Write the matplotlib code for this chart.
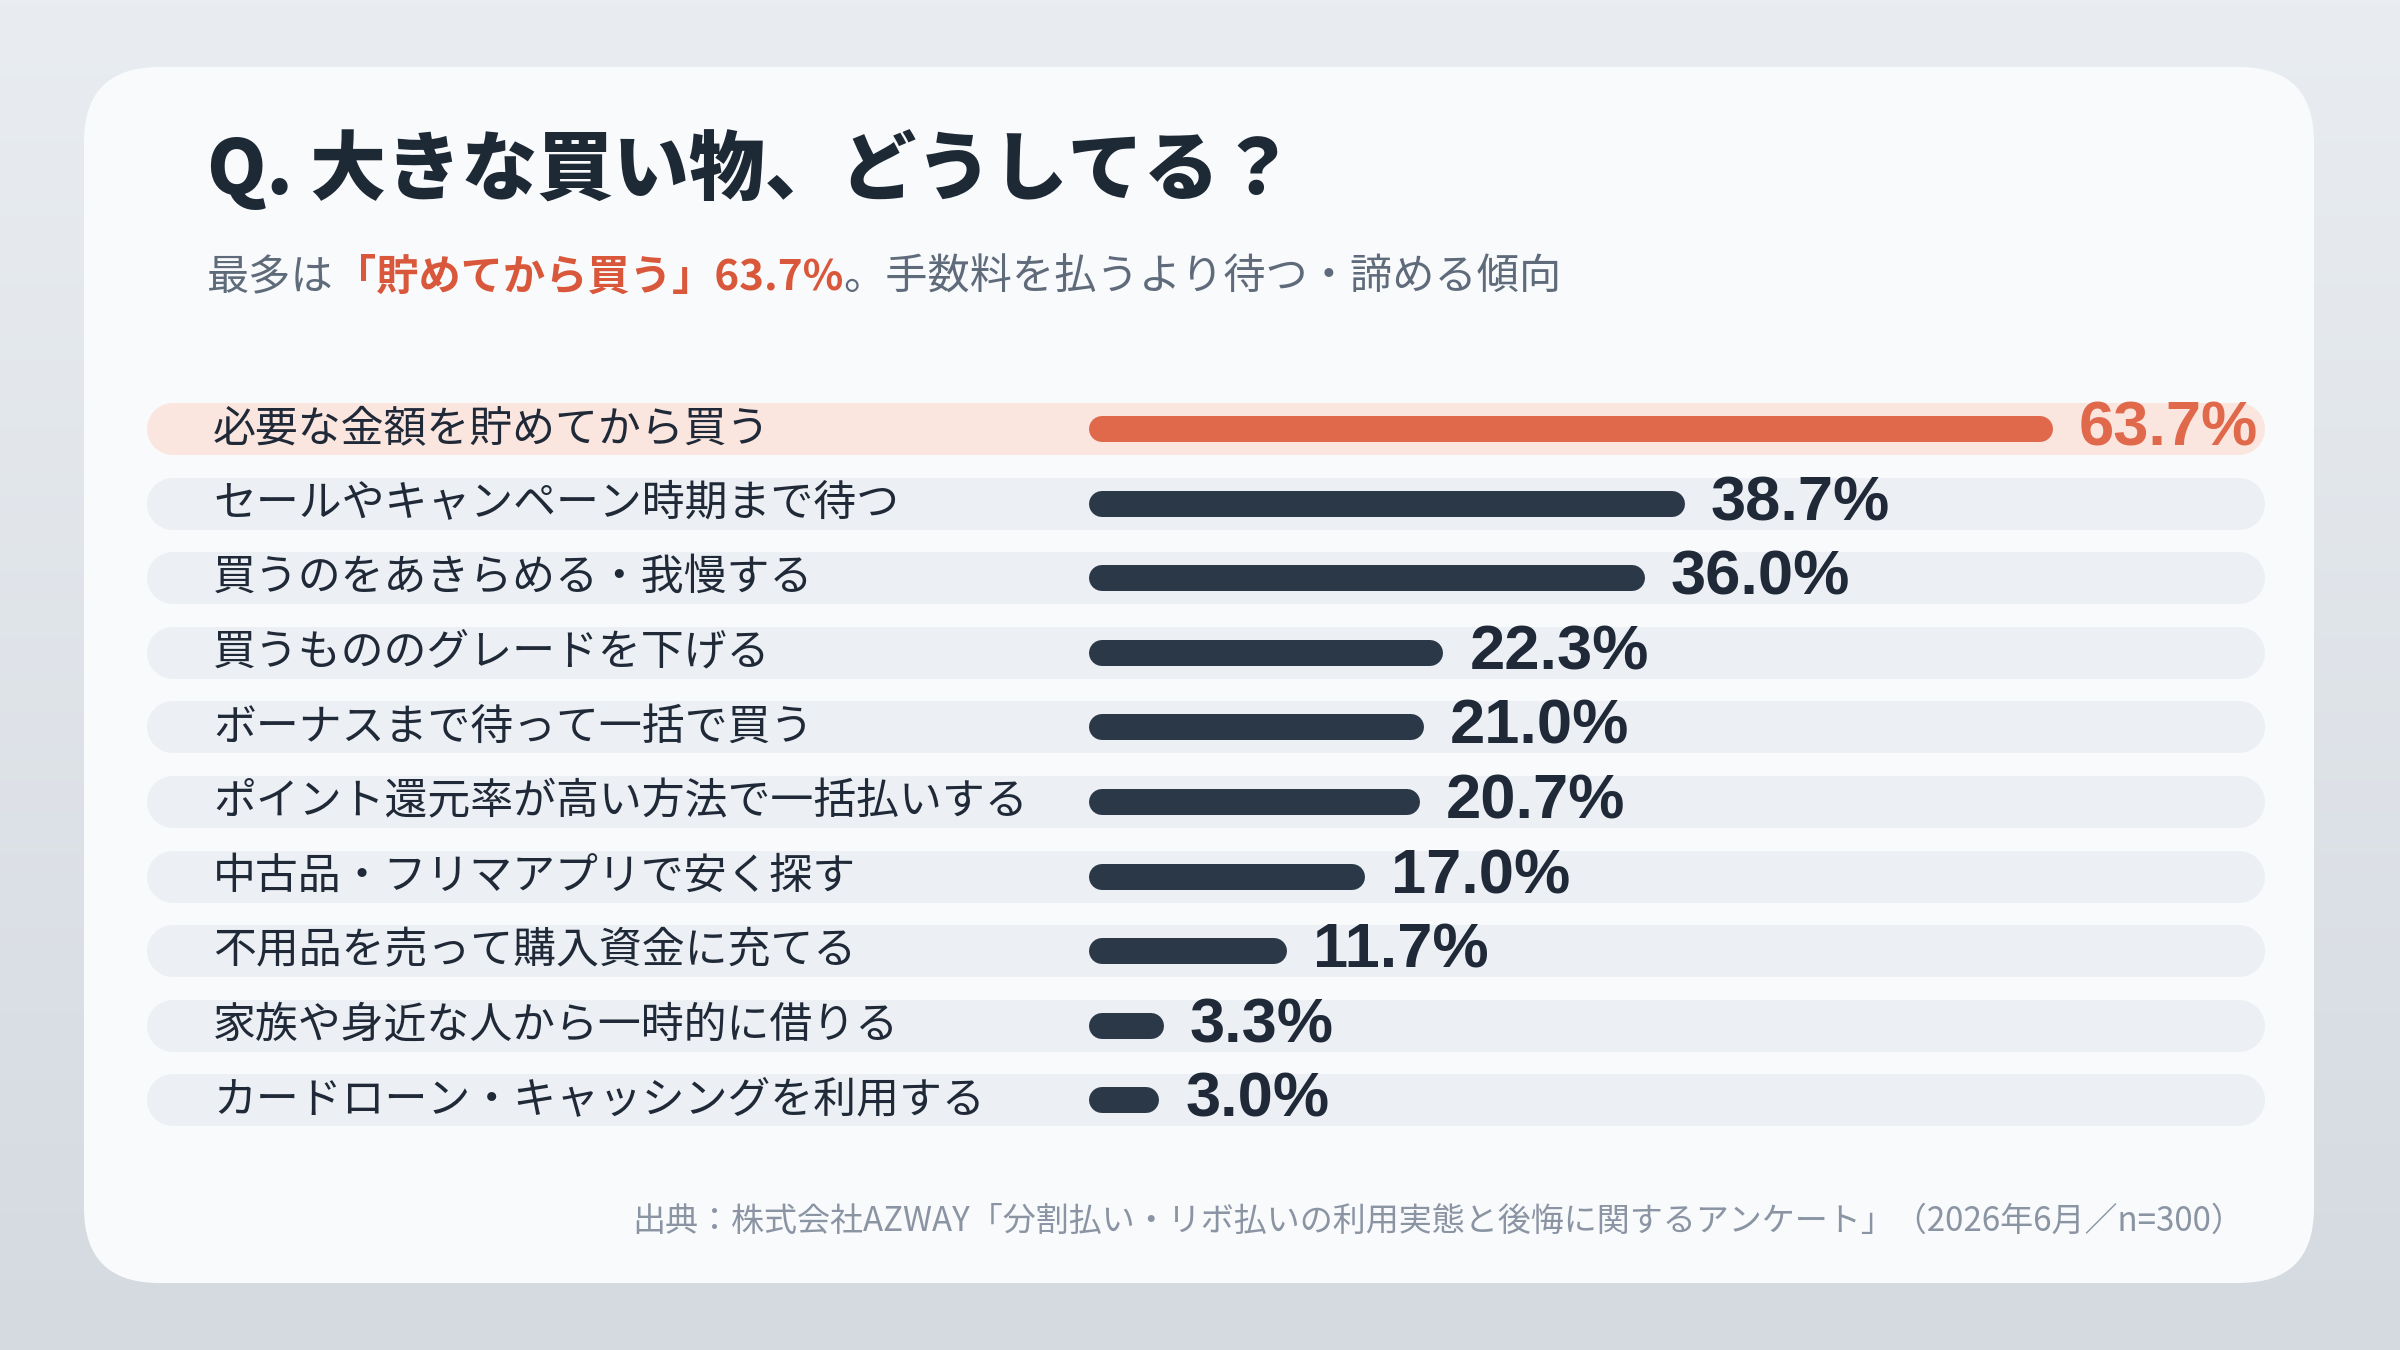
import numpy as np
import matplotlib.pyplot as plt
from matplotlib.patches import FancyBboxPatch

plt.rcParams['font.family'] = ['Noto Sans CJK JP', 'DejaVu Sans']

# ---- data ----
labels = [
    '必要な金額を貯めてから買う',
    'セールやキャンペーン時期まで待つ',
    '買うのをあきらめる・我慢する',
    '買うもののグレードを下げる',
    'ボーナスまで待って一括で買う',
    'ポイント還元率が高い方法で一括払いする',
    '中古品・フリマアプリで安く探す',
    '不用品を売って購入資金に充てる',
    '家族や身近な人から一時的に借りる',
    'カードローン・キャッシングを利用する',
]
values = [63.7, 38.7, 36.0, 22.3, 21.0, 20.7, 17.0, 11.7, 3.3, 3.0]
highlight = 0

title = 'Q. 大きな買い物、どうしてる？'
subtitle_parts = [
    ('最多は', '#5f6b7a', 'normal'),
    ('「貯めてから買う」63.7%', '#d9573a', 'bold'),
    ('。手数料を払うより待つ・諦める傾向', '#5f6b7a', 'normal'),
]
source = '出典：株式会社AZWAY「分割払い・リボ払いの利用実態と後悔に関するアンケート」（2026年6月／n=300）'

# ---- colours ----
ORANGE = '#e0684b'
ORANGE_BG = '#fbe5df'
DARK = '#2a3848'
TEXT = '#1f2937'
ROW_BG = '#eceff3'
CARD = '#f8fafc'

W, H = 2400, 1350
DPI = 100
fig = plt.figure(figsize=(W / DPI, H / DPI), dpi=DPI)

# background gradient + card
bg = fig.add_axes([0, 0, 1, 1])
grad = np.linspace(0, 1, 256).reshape(-1, 1)
top = np.array([0xe9, 0xed, 0xf1]) / 255
bot = np.array([0xd5, 0xda, 0xe1]) / 255
img = top + (bot - top) * grad[:, :, None]
bg.imshow(img, extent=[0, W, H, 0], aspect='auto')
bg.set_xlim(0, W)
bg.set_ylim(H, 0)
bg.axis('off')
card = FancyBboxPatch((84, 67), 2230, 1216, boxstyle='round,pad=0,rounding_size=75',
                      fc=CARD, ec='none')
bg.add_patch(card)

# ---- titles ----
px2pt = 72 / DPI
fig.text(207 / W, 1 - 170 / H, title, fontsize=54.5, fontweight='heavy', color='#1e2936',
         ha='left', va='center')

renderer = fig.canvas.get_renderer()
x = 207
for txt, col, wt in subtitle_parts:
    t = fig.text(x / W, 1 - 278 / H, txt, fontsize=30.4, fontweight=wt, color=col,
                 ha='left', va='center')
    bb = t.get_window_extent(renderer)
    x += bb.width

fig.text(2244 / W, 1 - 1221 / H, source, fontsize=23.8, color='#8a94a3',
         ha='right', va='center')

# ---- bar rows ----
zero_px = 1102
px_per_pct = 14.72
row_left, row_right = 147, 2265
row_pitch = 74.6
first_row = 429
n = len(values)
ax_top = first_row - row_pitch / 2
ax_bot = first_row + row_pitch * (n - 1) + row_pitch / 2
ax = fig.add_axes([row_left / W, 1 - ax_bot / H, (row_right - row_left) / W,
                   (ax_bot - ax_top) / H])
xmin = (row_left - zero_px) / px_per_pct
xmax = (row_right - zero_px) / px_per_pct
ax.set_xlim(xmin, xmax)
ax.set_ylim(n - 0.5, -0.5)
ax.axis('off')

pill_h = 52
bar_h = 26
pill_r = pill_h / 2 / px_per_pct
label_x = (213 - zero_px) / px_per_pct

for i, (lab, v) in enumerate(zip(labels, values)):
    hl = i == highlight
    ax.plot([xmin + pill_r, xmax - pill_r], [i, i], color=ORANGE_BG if hl else ROW_BG,
            lw=pill_h * px2pt, solid_capstyle='round', zorder=1)
    ax.plot([0, v], [i, i], color=ORANGE if hl else DARK,
            lw=bar_h * px2pt, solid_capstyle='round', zorder=2)
    ax.text(label_x, i, lab, fontsize=30.9, color=TEXT, ha='left', va='center', zorder=3)
    ax.annotate(f'{v:.1f}%', xy=(v, i), xytext=((bar_h / 2 + 26) * px2pt, 0),
                textcoords='offset points', ha='left', va='center',
                fontsize=45.5, fontweight='bold', family=['Liberation Sans', 'DejaVu Sans'],
                color=ORANGE if hl else '#1f2937', zorder=3)

fig.savefig('out.png', dpi=DPI)
